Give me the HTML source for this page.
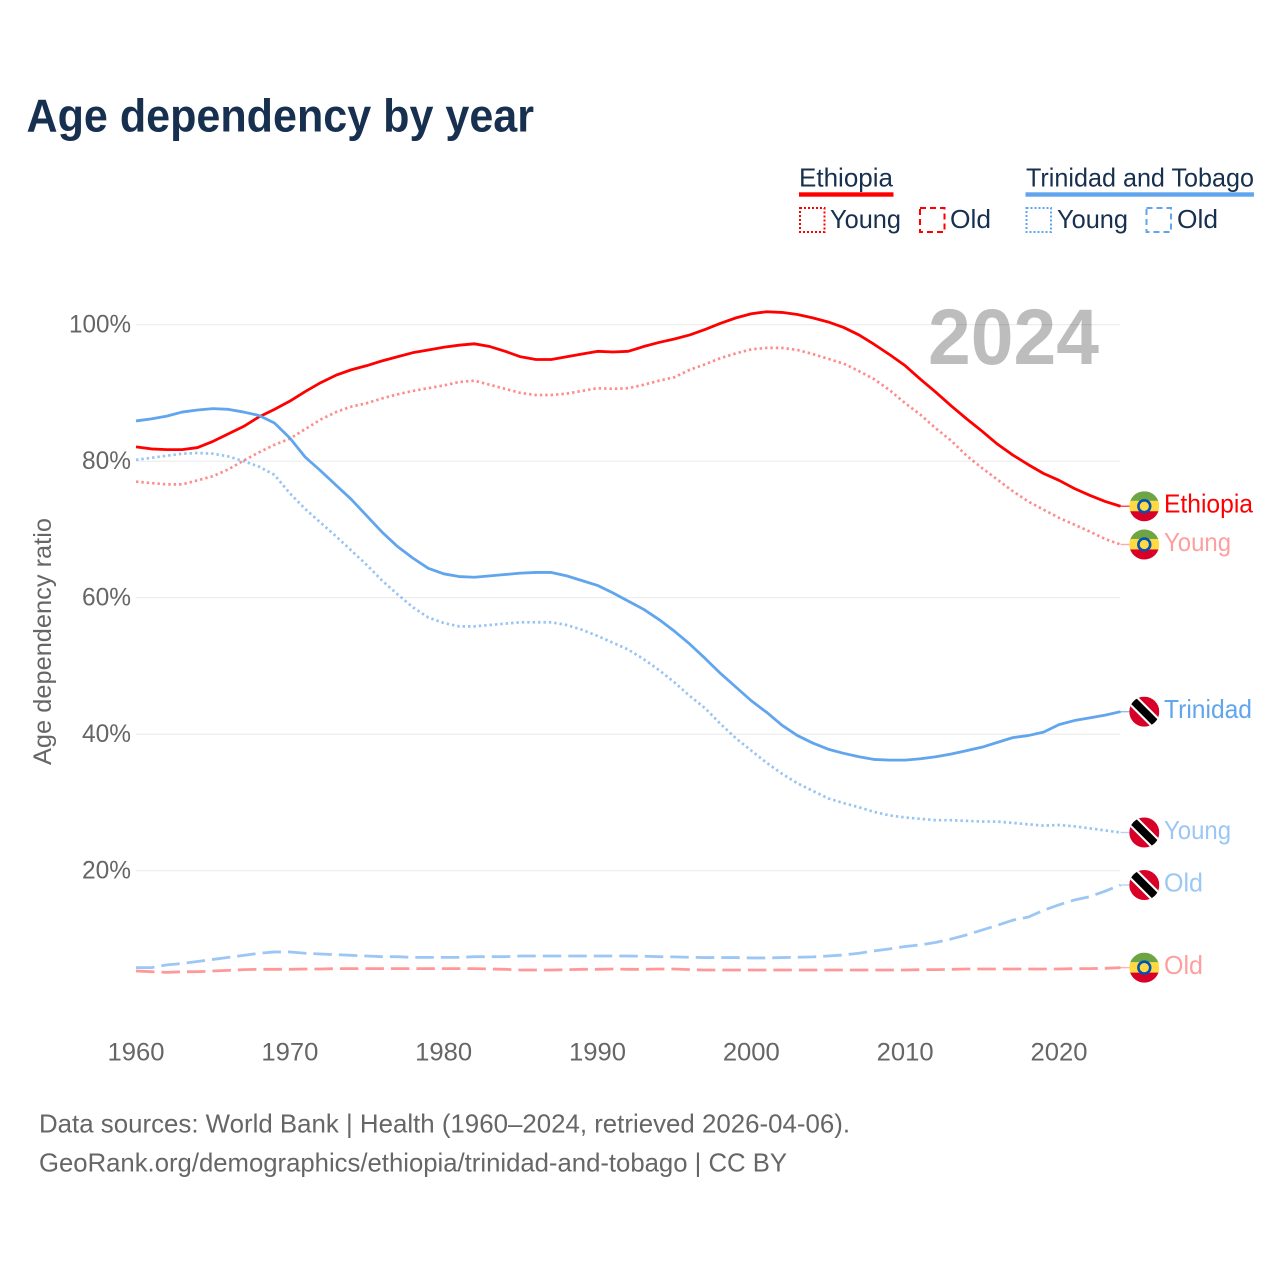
<!DOCTYPE html>
<html lang="en">
<head>
<meta charset="utf-8">
<title>Age dependency by year</title>
<style>
html,body{margin:0;padding:0;background:#fff;width:1280px;height:1280px;overflow:hidden}
svg{display:block}
text{font-family:"Liberation Sans",sans-serif}
</style>
</head>
<body>
<svg id="chart" xmlns="http://www.w3.org/2000/svg" width="1280" height="1280" viewBox="0 0 1280 1280">
  <rect width="1280" height="1280" fill="#fff"/>
  <text x="26.5" y="131.5" font-size="46" font-weight="700" fill="#17304f" textLength="507.5" lengthAdjust="spacingAndGlyphs">Age dependency by year</text>

  <g>
    <text x="799" y="186.5" font-size="26" fill="#17304f" textLength="94" lengthAdjust="spacingAndGlyphs">Ethiopia</text>
    <rect x="799" y="192.3" width="94.5" height="4.4" fill="#ff0000"/>
    <rect x="800" y="208" width="24.5" height="24" fill="none" stroke="#ff0000" stroke-width="2" stroke-dasharray="2 2"/>
    <text x="830" y="228" font-size="26" fill="#17304f" textLength="71" lengthAdjust="spacingAndGlyphs">Young</text>
    <rect x="920" y="208" width="24.5" height="24" fill="none" stroke="#ff0000" stroke-width="2" stroke-dasharray="6 4"/>
    <text x="950" y="228" font-size="26" fill="#17304f" textLength="41" lengthAdjust="spacingAndGlyphs">Old</text>

    <text x="1026" y="186.5" font-size="26" fill="#17304f" textLength="228" lengthAdjust="spacingAndGlyphs">Trinidad and Tobago</text>
    <rect x="1025.5" y="192.3" width="228.5" height="4.4" fill="#60a5ee"/>
    <rect x="1026.5" y="208" width="24.5" height="24" fill="none" stroke="#60a5ee" stroke-width="2" stroke-dasharray="2 2"/>
    <text x="1057" y="228" font-size="26" fill="#17304f" textLength="71" lengthAdjust="spacingAndGlyphs">Young</text>
    <rect x="1146.5" y="208" width="24.5" height="24" fill="none" stroke="#60a5ee" stroke-width="2" stroke-dasharray="6 4"/>
    <text x="1177" y="228" font-size="26" fill="#17304f" textLength="41" lengthAdjust="spacingAndGlyphs">Old</text>
  </g>

  <text x="928" y="364" font-size="79" font-weight="700" fill="#000" fill-opacity="0.26" textLength="171" lengthAdjust="spacingAndGlyphs">2024</text>
  <g id="grid"></g>
  <g id="yticks"></g>
  <g id="xticks"></g>
  <text transform="translate(51,765) rotate(-90)" font-size="25" fill="#666" textLength="247" lengthAdjust="spacingAndGlyphs">Age dependency ratio</text>
  <g id="series"></g>
  <g id="ends"></g>

  <text x="39" y="1132.5" font-size="26" fill="#666" textLength="811" lengthAdjust="spacingAndGlyphs">Data sources: World Bank | Health (1960–2024, retrieved 2026-04-06).</text>
  <text x="39" y="1171.5" font-size="26" fill="#666" textLength="748" lengthAdjust="spacingAndGlyphs">GeoRank.org/demographics/ethiopia/trinidad-and-tobago | CC BY</text>
</svg>
<script>
const years = [1960,1961,1962,1963,1964,1965,1966,1967,1968,1969,1970,1971,1972,1973,1974,1975,1976,1977,1978,1979,1980,1981,1982,1983,1984,1985,1986,1987,1988,1989,1990,1991,1992,1993,1994,1995,1996,1997,1998,1999,2000,2001,2002,2003,2004,2005,2006,2007,2008,2009,2010,2011,2012,2013,2014,2015,2016,2017,2018,2019,2020,2021,2022,2023,2024];
const xTickLabels = [1960,1970,1980,1990,2000,2010,2020];
const yTickLabels = [20,40,60,80,100];
const ethiopiaTotal = [82.1,81.8,81.7,81.7,82.0,82.9,84.0,85.1,86.5,87.6,88.8,90.2,91.5,92.6,93.4,94.0,94.7,95.3,95.9,96.3,96.7,97.0,97.2,96.8,96.1,95.3,94.9,94.9,95.3,95.7,96.1,96.0,96.1,96.8,97.4,97.9,98.5,99.3,100.2,101.0,101.6,101.9,101.8,101.5,101.0,100.4,99.6,98.5,97.1,95.6,94.0,92.0,90.1,88.1,86.2,84.4,82.5,80.9,79.5,78.2,77.2,76.0,75.0,74.1,73.4];
const ethiopiaYoung = [77.0,76.8,76.6,76.6,77.2,77.8,78.8,80.1,81.3,82.4,83.3,84.7,86.1,87.2,88.0,88.5,89.2,89.8,90.3,90.7,91.1,91.6,91.8,91.2,90.6,90.0,89.7,89.7,89.9,90.3,90.7,90.6,90.7,91.2,91.8,92.3,93.4,94.2,95.1,95.8,96.4,96.6,96.6,96.3,95.7,95.0,94.3,93.2,92.0,90.4,88.5,86.8,84.8,83.0,80.8,79.0,77.3,75.6,74.1,72.9,71.7,70.7,69.7,68.6,67.8];
const ethiopiaOld = [5.3,5.2,5.1,5.2,5.2,5.3,5.4,5.5,5.55,5.55,5.55,5.6,5.6,5.65,5.65,5.65,5.65,5.65,5.65,5.65,5.65,5.65,5.65,5.6,5.55,5.45,5.45,5.45,5.5,5.55,5.55,5.6,5.55,5.55,5.6,5.6,5.5,5.45,5.45,5.45,5.45,5.45,5.45,5.45,5.45,5.45,5.45,5.45,5.45,5.45,5.45,5.5,5.5,5.55,5.6,5.6,5.6,5.6,5.6,5.6,5.6,5.65,5.65,5.7,5.8];
const trinidadTotal = [85.9,86.2,86.6,87.2,87.5,87.7,87.6,87.2,86.7,85.6,83.4,80.6,78.6,76.5,74.4,72.0,69.6,67.5,65.8,64.3,63.5,63.1,63.0,63.2,63.4,63.6,63.7,63.7,63.2,62.5,61.8,60.7,59.5,58.3,56.8,55.1,53.2,51.1,48.9,46.9,44.9,43.2,41.3,39.8,38.7,37.8,37.2,36.7,36.3,36.2,36.2,36.4,36.7,37.1,37.6,38.1,38.8,39.5,39.8,40.3,41.4,42.0,42.4,42.8,43.3];
const trinidadYoung = [80.2,80.5,80.8,81.1,81.2,81.1,80.7,80.0,79.2,78.0,75.3,73.0,71.0,69.0,66.9,64.8,62.5,60.5,58.6,57.1,56.3,55.8,55.8,56.0,56.2,56.4,56.4,56.4,56.0,55.3,54.4,53.4,52.4,51.0,49.4,47.6,45.6,43.8,41.5,39.4,37.6,35.8,34.2,32.8,31.7,30.6,29.9,29.3,28.6,28.1,27.8,27.6,27.4,27.4,27.3,27.2,27.2,27.0,26.8,26.6,26.7,26.5,26.2,25.9,25.6];
const trinidadOld = [5.8,5.8,6.2,6.4,6.7,7.0,7.3,7.6,7.9,8.1,8.1,7.9,7.8,7.7,7.6,7.5,7.4,7.4,7.3,7.3,7.3,7.3,7.4,7.4,7.4,7.5,7.5,7.5,7.5,7.5,7.5,7.5,7.5,7.47,7.4,7.37,7.32,7.27,7.27,7.27,7.22,7.22,7.27,7.32,7.37,7.5,7.66,7.9,8.25,8.54,8.9,9.13,9.5,10.0,10.6,11.3,12.0,12.75,13.2,14.2,15.0,15.7,16.2,17.0,17.9];

const NS = 'http://www.w3.org/2000/svg';
const xScale = function (year) { return 136 + (year - 1960) * (984.5 / 64); };
const yScale = function (v) { return 1007.2 - v * 6.825; };
function make(tag, attrs, parent) {
  const el = document.createElementNS(NS, tag);
  for (const k in attrs) el.setAttribute(k, attrs[k]);
  parent.appendChild(el);
  return el;
}

const gridG = document.getElementById('grid');
const yG = document.getElementById('yticks');
yTickLabels.forEach(function (t) {
  const line = make('line', {x1: 136, x2: 1120, y1: yScale(t), y2: yScale(t), stroke: '#000', 'stroke-opacity': 0.08, 'stroke-width': 1.2}, gridG);
  
  
  const label = make('text', {x: 131, y: yScale(t) + 8, 'text-anchor': 'end', 'font-size': 25, fill: '#666', textLength: t === 100 ? 62 : 49, lengthAdjust: 'spacingAndGlyphs'}, yG);
  
  
  label.textContent = t + '%';
});

const xG = document.getElementById('xticks');
xTickLabels.forEach(function (t) {
  const label = make('text', {x: xScale(t), y: 1060.5, 'text-anchor': 'middle', 'font-size': 25, fill: '#666', textLength: 57, lengthAdjust: 'spacingAndGlyphs'}, xG);
  
  
  label.textContent = t;
});

const seriesG = document.getElementById('series');
const endsG = document.getElementById('ends');
const RED = '#ff0000';
const BLUE = '#60a5ee';

function addLine(values, color, opacity, width, dash, name) {
  const pts = values.map(function (v, i) { return xScale(years[i]).toFixed(2) + ',' + yScale(v).toFixed(2); }).join(' ');
  const attrs = {points: pts, fill: 'none', stroke: color, 'stroke-opacity': opacity, 'stroke-width': width, 'stroke-linejoin': 'round'};
  if (dash) attrs['stroke-dasharray'] = dash;
  const line = make('polyline', attrs, seriesG);
  
  
  const yEnd = yScale(values[values.length - 1]);
  const stub = make('line', {x1: xScale(2024), x2: 1132, y1: yEnd, y2: yEnd, stroke: color, 'stroke-opacity': opacity * 0.75, 'stroke-width': 1.4}, seriesG);
  
  
}

let clipCount = 0;
function addFlag(kind, cy) {
  const cx = 1144.3, r = 15;
  const id = 'flag-clip-' + (clipCount++);
  const clip = make('clipPath', {id: id}, endsG);
  make('circle', {cx: cx, cy: cy, r: r}, clip);
  const g = make('g', {'clip-path': 'url(#' + id + ')'}, endsG);
  
  
  if (kind === 'ethiopia') {
    make('rect', {x: cx - r, y: cy - r, width: 30, height: 10.5, fill: '#6da544'}, g);
    make('rect', {x: cx - r, y: cy - 5.5, width: 30, height: 11, fill: '#ffda44'}, g);
    make('rect', {x: cx - r, y: cy + 5, width: 30, height: 10.5, fill: '#d80027'}, g);
    make('circle', {cx: cx, cy: cy, r: 7.2, fill: '#0052b4'}, g);
    make('circle', {cx: cx, cy: cy, r: 4.6, fill: '#ffda44'}, g);
  } else {
    const rot = 'rotate(45 ' + cx + ' ' + cy + ')';
    make('rect', {x: cx - r, y: cy - r, width: 30, height: 30, fill: '#d80027'}, g);
    make('rect', {x: cx - 20, y: cy - 6, width: 40, height: 12, fill: '#fff', transform: rot}, g);
    make('rect', {x: cx - 20, y: cy - 3.9, width: 40, height: 7.8, fill: '#000', transform: rot}, g);
  }
}

function addEnd(kind, values, text, color, opacity, labelWidth, name) {
  const cy = yScale(values[values.length - 1]);
  addFlag(kind, cy);
  const label = make('text', {x: 1164, y: cy + 6.5, 'font-size': 26, fill: color, 'fill-opacity': opacity, textLength: labelWidth, lengthAdjust: 'spacingAndGlyphs'}, endsG);
  
  
  label.textContent = text;
}

addLine(ethiopiaOld, RED, 0.4, 2.8, '18.5 7', 'ethiopia-old-line');
addLine(trinidadOld, BLUE, 0.62, 2.8, '18.5 7', 'trinidad-old-line');
addLine(ethiopiaYoung, RED, 0.45, 2.7, '2.4 3', 'ethiopia-young-line');
addLine(trinidadYoung, BLUE, 0.65, 2.7, '2.4 3', 'trinidad-young-line');
addLine(ethiopiaTotal, RED, 1, 2.8, '', 'ethiopia-total-line');
addLine(trinidadTotal, BLUE, 1, 2.8, '', 'trinidad-total-line');

addEnd('ethiopia', ethiopiaTotal, 'Ethiopia', RED, 1, 89, 'ethiopia-total-label');
addEnd('ethiopia', ethiopiaYoung, 'Young', RED, 0.38, 67, 'ethiopia-young-label');
addEnd('ethiopia', ethiopiaOld, 'Old', RED, 0.38, 39, 'ethiopia-old-label');
addEnd('trinidad', trinidadTotal, 'Trinidad', BLUE, 1, 88, 'trinidad-total-label');
addEnd('trinidad', trinidadYoung, 'Young', BLUE, 0.62, 67, 'trinidad-young-label');
addEnd('trinidad', trinidadOld, 'Old', BLUE, 0.62, 39, 'trinidad-old-label');
</script>
</body>
</html>
